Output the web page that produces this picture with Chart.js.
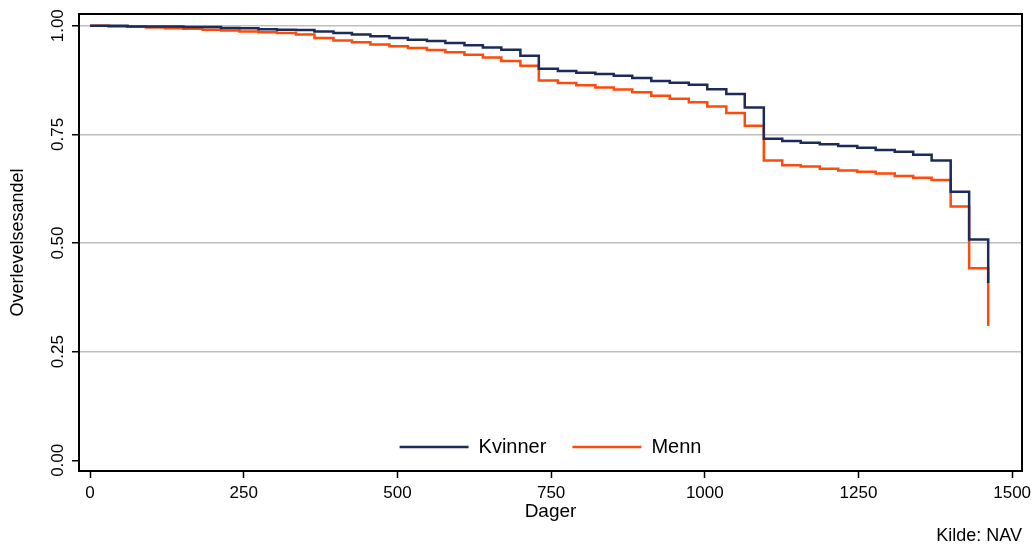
<!DOCTYPE html>
<html><head><meta charset="utf-8">
<script src="https://cdn.jsdelivr.net/npm/chart.js@4.4.1/dist/chart.umd.min.js"></script>
<style>html,body{margin:0;padding:0;background:#fff;}#wrap{width:1032px;height:545px;}</style>
</head><body><div id="wrap"><canvas id="c" width="1032" height="545"></canvas></div>
<script>
// Step times (days, monthly) and survival proportions
const days = [0, 30, 61, 91, 122, 152, 183, 213, 243, 274, 304, 335,
  365, 396, 426, 456, 487, 517, 548, 578, 609, 639, 669, 700,
  730, 761, 791, 822, 852, 882, 913, 943, 974, 1004, 1035, 1065,
  1096, 1126, 1156, 1187, 1217, 1248, 1278, 1309, 1339, 1369, 1400, 1430, 1461];
const kvinner = [1.000, 1.000, 0.998, 0.998, 0.998, 0.997, 0.997, 0.995, 0.994, 0.992, 0.991, 0.990,
  0.987, 0.983, 0.980, 0.976, 0.972, 0.968, 0.965, 0.960, 0.955, 0.950, 0.945, 0.931,
  0.901, 0.896, 0.892, 0.889, 0.885, 0.880, 0.873, 0.869, 0.864, 0.854, 0.843, 0.812,
  0.740, 0.735, 0.731, 0.727, 0.723, 0.719, 0.714, 0.710, 0.703, 0.690, 0.618, 0.508, 0.408];
const menn = [1.000, 0.998, 0.998, 0.996, 0.994, 0.993, 0.991, 0.989, 0.987, 0.985, 0.983, 0.980,
  0.972, 0.966, 0.962, 0.957, 0.953, 0.949, 0.944, 0.939, 0.933, 0.927, 0.919, 0.908,
  0.874, 0.868, 0.863, 0.858, 0.853, 0.847, 0.839, 0.832, 0.824, 0.814, 0.799, 0.770,
  0.690, 0.679, 0.676, 0.671, 0.667, 0.664, 0.660, 0.654, 0.650, 0.645, 0.584, 0.442, 0.309];
const seriesLabels = ['Kvinner', 'Menn'];
const xTicks = [0, 250, 500, 750, 1000, 1250, 1500];
const yTicks = [0, 0.25, 0.5, 0.75, 1.0];

const FONT = "'Liberation Sans', Arial, Helvetica, sans-serif";
const NAVY = '#1c2b57';
const ORANGE = '#ff4a0a';

const framePlugin = {
  id: 'frame',
  afterDraw(chart) {
    const {ctx, chartArea: a} = chart;
    ctx.save();
    ctx.strokeStyle = '#000';
    ctx.lineWidth = 2;
    ctx.strokeRect(a.left, a.top, a.right - a.left, a.bottom - a.top);
    ctx.restore();
  }
};
const legendInside = {
  id: 'legendInside',
  beforeLayout(chart) {
    const lg = chart.legend;
    if (lg && !lg._patched) {
      const orig = lg.fit;
      lg.fit = function () { orig.call(this); this._realH = this.height; this.height = 0; };
      lg._patched = true;
    }
  },
  afterLayout(chart) {
    const lg = chart.legend, a = chart.chartArea;
    lg.left = a.left; lg.right = a.right; lg.width = a.right - a.left;
    lg.top = 411; lg.height = lg._realH; lg.bottom = lg.top + lg._realH;
  }
};

new Chart(document.getElementById('c'), {
  type: 'line',
  data: {
    datasets: [
      { label: seriesLabels[0], data: days.map((d, i) => ({x: d, y: kvinner[i]})),
        borderColor: NAVY, backgroundColor: NAVY, borderWidth: 2.5, stepped: true, pointRadius: 0, fill: false },
      { label: seriesLabels[1], data: days.map((d, i) => ({x: d, y: menn[i]})),
        borderColor: ORANGE, backgroundColor: ORANGE, borderWidth: 2.5, stepped: true, pointRadius: 0, fill: false }
    ]
  },
  options: {
    responsive: false, animation: false, devicePixelRatio: 1,
    layout: { padding: { top: 14, right: 10, bottom: 0, left: 0 } },
    scales: {
      x: {
        type: 'linear', min: -18, max: 1516,
        afterBuildTicks: s => { s.ticks = xTicks.map(v => ({value: v})); },
        afterFit: s => { s.height = 56; s.paddingLeft = 0; s.paddingRight = 0; },
        ticks: { font: { family: FONT, size: 17 }, color: '#000', padding: 5, maxRotation: 0, autoSkip: false,
                 callback: v => String(v) },
        grid: { drawOnChartArea: false, drawTicks: true, tickLength: 7, tickColor: '#000', tickWidth: 1.5 },
        border: { display: false },
        title: { display: true, text: 'Dager', font: { family: FONT, size: 19 }, color: '#000', padding: { top: 0, bottom: 4 } }
      },
      y: {
        type: 'linear', min: -0.0246, max: 1.027,
        afterBuildTicks: s => { s.ticks = yTicks.map(v => ({value: v})); },
        afterFit: s => { s.width = 79; s.paddingTop = 0; s.paddingBottom = 0; },
        ticks: { font: { family: FONT, size: 17 }, color: '#000', padding: -2.5, minRotation: 90, maxRotation: 90,
                 crossAlign: 'center', callback: v => Number(v).toFixed(2) },
        grid: { color: c => (c.tick && c.tick.value === 0) ? 'rgba(0,0,0,0)' : '#bfbfbf', lineWidth: 1.5,
                drawTicks: true, tickLength: 7, tickColor: '#000', tickWidth: 1.5 },
        border: { display: false },
        title: { display: true, text: 'Overlevelsesandel', font: { family: FONT, size: 18 }, color: '#000', padding: { top: 7, bottom: 0 } }
      }
    },
    plugins: {
      legend: {
        display: true, position: 'bottom',
        labels: { font: { family: FONT, size: 20 }, color: '#000', usePointStyle: true, pointStyle: 'line',
                  pointStyleWidth: 69, padding: 26 }
      },
      subtitle: { display: true, text: 'Kilde: NAV', position: 'bottom', align: 'end',
                  font: { family: FONT, size: 18, weight: 'normal', lineHeight: 1 }, color: '#000', padding: 0 },
      tooltip: { enabled: false }
    }
  },
  plugins: [framePlugin, legendInside]
});
</script></body></html>
